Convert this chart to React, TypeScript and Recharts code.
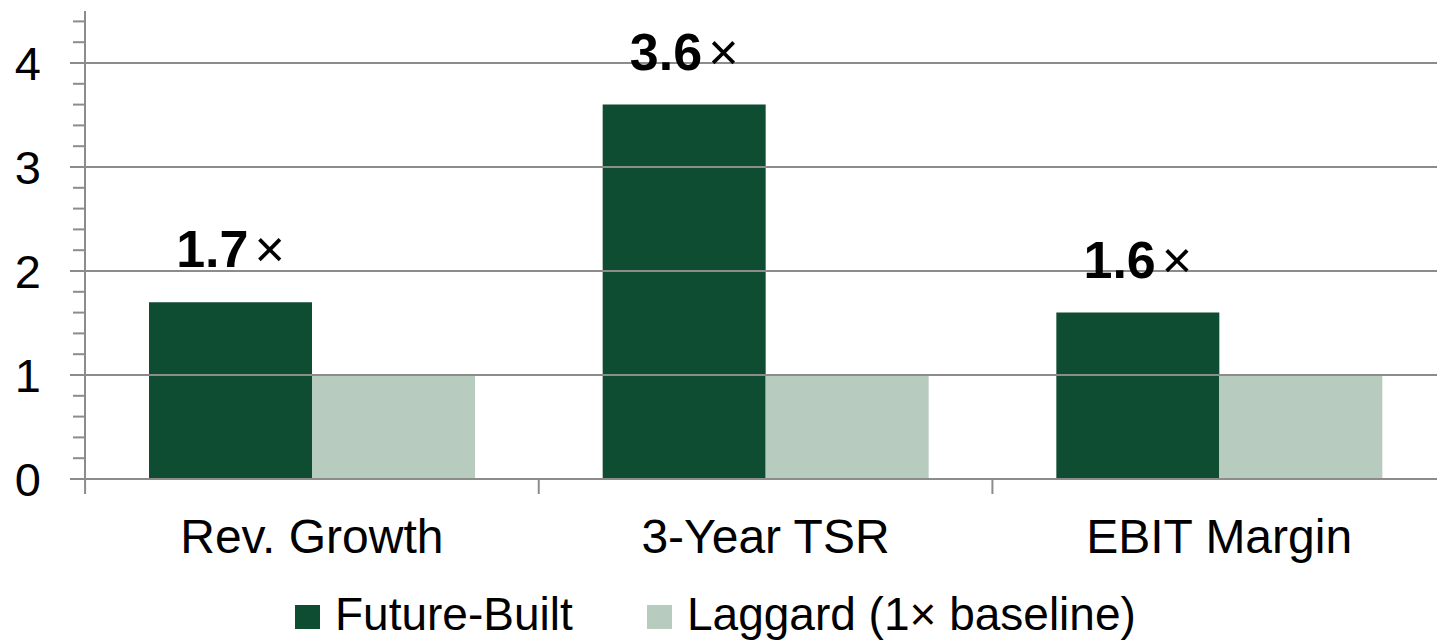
import React from "react";
import { BarChart, Bar, XAxis, YAxis, ReferenceLine, LabelList } from "recharts";

const categories = ["Rev. Growth", "3-Year TSR", "EBIT Margin"];
const futureBuilt = [1.7, 3.6, 1.6];
const laggard = [1, 1, 1];
const yTicks = [0, 0.2, 0.4, 0.6, 0.8, 1, 1.2, 1.4, 1.6, 1.8, 2, 2.2, 2.4, 2.6, 2.8, 3, 3.2, 3.4, 3.6, 3.8, 4, 4.2, 4.4];
const gridValues = [1, 2, 3, 4];
const seriesNames = ["Future-Built", "Laggard (1× baseline)"];

const DARK = "#0f4d32";
const LIGHT = "#b8cbbf";
const AXIS = "#8c8c8c";
const FONT = "'Liberation Sans', Arial, sans-serif";

const data = categories.map((name, i) => ({
  name,
  futureBuilt: futureBuilt[i],
  laggard: laggard[i],
}));

const BAND = 453.5;

function YTick(props: any) {
  const { x, y, payload } = props;
  const v = payload.value;
  const major = Math.abs(v - Math.round(v)) < 1e-6;
  return (
    <g>
      <line x1={major ? x - 15 : x - 12} x2={x} y1={y} y2={y} stroke={AXIS} strokeWidth={2} />
      {major && (
        <text x={41} y={y} dy="0.36em" textAnchor="end" fontSize={47} fontFamily={FONT} fill="#000">
          {Math.round(v)}
        </text>
      )}
    </g>
  );
}

function XTick(props: any) {
  const { x, payload } = props;
  const left = x - BAND / 2;
  return (
    <g>
      <line x1={left} x2={left} y1={479} y2={494} stroke={AXIS} strokeWidth={2} />
      <text x={x} y={553} textAnchor="middle" fontSize={48} fontFamily={FONT} fill="#000">
        {payload.value}
      </text>
    </g>
  );
}

function ValueLabel(props: any) {
  const { x, y, width, value } = props;
  return (
    <text x={x + width / 2} y={y - 35} textAnchor="middle" fontFamily={FONT} fontSize={52} fill="#000">
      <tspan fontWeight="bold">{Number(value).toFixed(1)}</tspan>
      <tspan dx={6} fontWeight="normal">×</tspan>
    </text>
  );
}

export default function App() {
  return (
    <div style={{ position: "absolute", left: 0, top: 0, width: 1437, height: 640, overflow: "hidden", background: "#fff" }}>
      <BarChart
        width={1446}
        height={640}
        data={data}
        margin={{ top: 11, right: 0, left: 0, bottom: 0 }}
        barCategoryGap={64}
        barGap={0}
      >
        {gridValues.map((v) => (
          <ReferenceLine key={v} y={v} stroke={AXIS} strokeWidth={2} />
        ))}
        <XAxis
          dataKey="name"
          height={161}
          axisLine={{ stroke: AXIS, strokeWidth: 2 }}
          tickLine={false}
          tick={<XTick />}
          interval={0}
        />
        <YAxis
          width={85}
          domain={[0, 4.5]}
          ticks={yTicks}
          interval={0}
          allowDataOverflow
          axisLine={{ stroke: AXIS, strokeWidth: 2 }}
          tickLine={false}
          tickSize={0}
          tickMargin={0}
          tick={<YTick />}
        />
        <Bar dataKey="futureBuilt" name={seriesNames[0]} fill={DARK} isAnimationActive={false}>
          <LabelList dataKey="futureBuilt" content={<ValueLabel />} />
        </Bar>
        <Bar dataKey="laggard" name={seriesNames[1]} fill={LIGHT} isAnimationActive={false} />
      </BarChart>
      <div style={{ position: "absolute", top: 591, left: 0, fontFamily: FONT, fontSize: 46, lineHeight: "46px", color: "#000" }}>
        {[DARK, LIGHT].map((c, i) => (
          <div key={i} style={{ position: "absolute", left: i === 0 ? 295 : 647, top: 0, display: "flex", whiteSpace: "nowrap" }}>
            <div style={{ width: 25, height: 24, background: c, marginTop: 14, marginRight: 15 }} />
            <span>{seriesNames[i]}</span>
          </div>
        ))}
      </div>
    </div>
  );
}
